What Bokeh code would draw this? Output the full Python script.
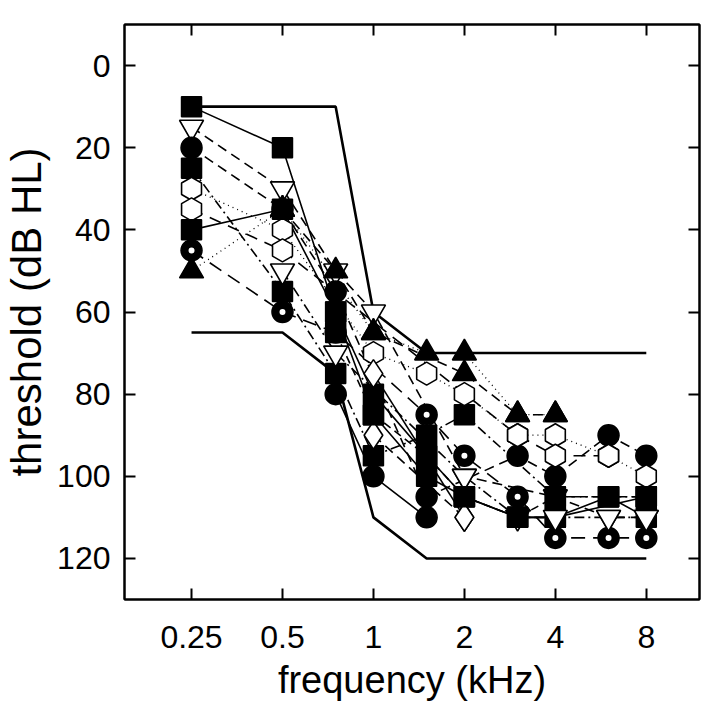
import numpy as np
from bokeh.plotting import figure
from bokeh.models import Range1d, FixedTicker, CustomJSTickFormatter, LogAxis, LinearAxis
from bokeh.embed import file_html
from bokeh.resources import INLINE

# ---- data -------------------------------------------------------------
x_ticks = [0.25, 0.5, 1, 2, 4, 8]
y_ticks = [0, 20, 40, 60, 80, 100, 120]

# boundary curves
upper_f = [0.25, 0.75, 1, 1.5, 8]
upper_db = [10, 10, 60, 70, 70]
lower_f = [0.25, 0.5, 0.75, 1, 1.5, 8]
lower_db = [65, 65, 75, 110, 120, 120]

# individual audiograms (frequency kHz, threshold dB HL)
sA_f = [0.25, 0.5, 0.75, 1, 1.5, 2, 3, 4, 8]
sA_db = [10, 20, 60, 85, 100, 105, 110, 110, 105]
sB_f = [0.25, 0.5, 0.75, 1, 2, 4, 6, 8]
sB_db = [15, 30, 50, 60, 100, 105, 110, 110]
sC_f = [0.25, 0.5, 0.75, 1.5, 3, 4, 6, 8]
sC_db = [20, 35, 55, 105, 95, 100, 90, 95]
sD_f = [0.25, 0.5, 0.75, 1, 1.5, 2, 4, 6, 8]
sD_db = [25, 55, 75, 95, 90, 85, 105, 105, 105]
sE_f = [0.25, 0.5, 1, 1.5, 2, 3, 4, 6, 8]
sE_db = [30, 40, 70, 75, 80, 90, 90, 95, 100]
sF_f = [0.25, 0.5, 3, 4, 6]
sF_db = [35, 45, 90, 95, 95]
sG_f = [0.25, 0.5, 0.75, 1, 1.5, 2, 3, 4, 6, 8]
sG_db = [40, 35, 60, 80, 95, 105, 110, 110, 105, 110]
sH_f = [0.25, 0.5, 0.75, 1.5, 2, 3, 4, 6, 8]
sH_db = [45, 60, 65, 85, 95, 105, 115, 115, 115]
sI_f = [0.25, 0.5, 1, 1.5, 2, 3, 4]
sI_db = [50, 35, 65, 70, 70, 85, 85]
sJ_f = [0.5, 0.75, 2, 3, 4, 6, 8]
sJ_db = [50, 70, 100, 110, 110, 110, 110]
sK_f = [1, 2]
sK_db = [75, 110]
sL_f = [1, 2]
sL_db = [90, 110]
sM_f = [0.75, 1, 1.5]
sM_db = [80, 100, 110]
sN_f = [0.5, 0.75, 1, 2, 3, 4]
sN_db = [35, 50, 65, 75, 85, 85]
sO_f = [0.75, 1, 1.5, 2, 3, 4, 6, 8]
sO_db = [65, 85, 95, 105, 110, 105, 105, 105]

subjects = [
    (sA_f, sA_db, "sq", "solid"),
    (sB_f, sB_db, "itri", "10 6"),
    (sC_f, sC_db, "circ", "10 6"),
    (sD_f, sD_db, "sq", "10 4 2 4"),
    (sE_f, sE_db, "hex", "1 4"),
    (sF_f, sF_db, "hex", "12 8"),
    (sG_f, sG_db, "sq", "solid"),
    (sH_f, sH_db, "bull", "14 8"),
    (sI_f, sI_db, "tri", "1 4"),
    (sJ_f, sJ_db, "itri", "10 4 2 4"),
    (sK_f, sK_db, "dia", "solid"),
    (sL_f, sL_db, "dia", "10 6"),
    (sM_f, sM_db, "circ", "solid"),
    (sN_f, sN_db, "tri", "10 6"),
    (sO_f, sO_db, "sq", "8 5"),
]

# ---- figure -----------------------------------------------------------
FONT = "Liberation Sans"
p = figure(x_axis_type="log", x_range=Range1d(0.15, 12), y_range=Range1d(130, -10),
           frame_width=575, frame_height=575,
           min_border_left=123, min_border_right=10, min_border_top=24, min_border_bottom=109,
           output_backend="svg", toolbar_location=None,
           background_fill_color="white", border_fill_color="white")
p.grid.visible = False
p.outline_line_color = "black"
p.outline_line_width = 2

xa = p.xaxis[0]
xa.ticker = FixedTicker(ticks=x_ticks)
xa.formatter = CustomJSTickFormatter(code="return tick.toString();")
ya = p.yaxis[0]
ya.ticker = FixedTicker(ticks=y_ticks)

for ax in (xa, ya):
    ax.major_tick_in = 11
    ax.major_tick_out = 0
    ax.major_tick_line_width = 2
    ax.minor_tick_line_color = None
    ax.axis_line_width = 2
    ax.major_label_text_font = FONT
    ax.major_label_text_font_size = "32px"
    ax.major_label_text_color = "black"
    ax.axis_label_text_font = FONT
    ax.axis_label_text_font_style = "normal"
    ax.axis_label_text_color = "black"

xa.axis_label = "frequency (kHz)"
xa.axis_label_text_font_size = "38px"
xa.major_label_standoff = 26
xa.axis_label_standoff = 8
ya.axis_label = "threshold (dB HL)"
ya.axis_label_text_font_size = "42px"
ya.major_label_standoff = 14
ya.axis_label_standoff = 4

top = LogAxis(ticker=FixedTicker(ticks=x_ticks), major_tick_in=11, major_tick_out=0,
              major_tick_line_width=2, minor_tick_line_color=None,
              major_label_text_font_size="1px", major_label_text_color=None,
              major_label_standoff=0, axis_line_width=2)
right = LinearAxis(ticker=FixedTicker(ticks=y_ticks), major_tick_in=11, major_tick_out=0,
                   major_tick_line_width=2, minor_tick_line_color=None,
                   major_label_text_font_size="1px", major_label_text_color=None,
                   major_label_standoff=0, axis_line_width=2)
p.add_layout(top, "above")
p.add_layout(right, "right")

# boundaries
p.line(upper_f, upper_db, line_color="black", line_width=2.6)
p.line(lower_f, lower_db, line_color="black", line_width=2.6)

# audiogram lines
for f, db, m, dash in subjects:
    w = 1.3 if dash == "1 4" else 1.6
    p.line(f, db, line_color="black", line_width=w, line_dash=dash)

# markers
for f, db, m, dash in subjects:
    if m == "sq":
        p.scatter(f, db, marker="square", size=20, fill_color="black", line_color="black", line_width=1.5)
    elif m == "itri":
        p.scatter(f, db, marker="inverted_triangle", size=24, fill_color="white", line_color="black", line_width=1.6)
    elif m == "circ":
        p.scatter(f, db, marker="circle", size=21, fill_color="black", line_color="black", line_width=1.5)
    elif m == "hex":
        p.scatter(f, db, marker="hex", size=23, angle=np.pi / 6, fill_color="white", line_color="black", line_width=1.6)
    elif m == "tri":
        p.scatter(f, db, marker="triangle", size=24, fill_color="black", line_color="black", line_width=1.5)
    elif m == "dia":
        p.scatter(f, db, marker="diamond", size=28, fill_color="white", line_color="black", line_width=1.6)
    elif m == "bull":
        p.scatter(f, db, marker="circle", size=21, fill_color="black", line_color="black", line_width=1.5)
        p.scatter(f, db, marker="circle", size=6, fill_color="white", line_color="white", line_width=0)

open("out.html", "w").write(file_html(p, INLINE))
